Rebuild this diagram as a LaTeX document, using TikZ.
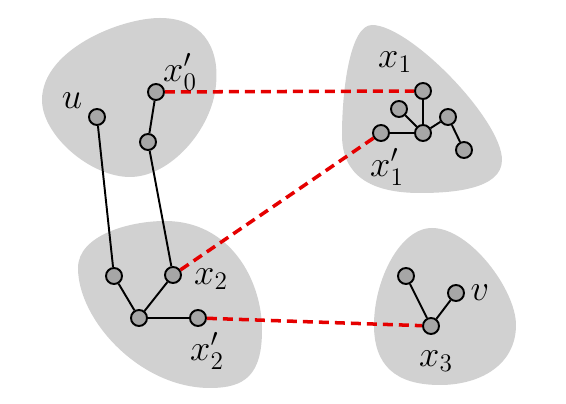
\documentclass[tikz,border=0pt]{standalone}
\usepackage{tikz}
\tikzset{
	vtx/.style={circle,draw=black,line width=1.1pt,fill=black!35,minimum size=0.32cm,inner sep=0pt},
	blob/.style={fill=black!18,draw=none},
	link/.style={red!90!black,line width=2pt,dash pattern=on 0.2cm off 0.12cm},
	lbl/.style={font=\fontsize{20}{24}\selectfont}
}
\begin{document}
\begin{tikzpicture}[x=0.02cm,y=-0.02cm]
	\useasboundingbox (0,0) rectangle (566,404);
	% blobs
	\fill[blob] (42,100) .. controls (42,50) and (120,18) .. (160,18)
		.. controls (200,18) and (220,45) .. (216,85)
		.. controls (212,130) and (170,177) .. (130,177)
		.. controls (90,177) and (42,135) .. (42,100) -- cycle;
	\fill[blob] (372,25) .. controls (410,25) and (502,120) .. (502,160)
		.. controls (502,190) and (450,193) .. (420,193)
		.. controls (370,193) and (342,175) .. (342,135)
		.. controls (342,90) and (350,25) .. (372,25) -- cycle;
	\fill[blob] (78,268) .. controls (78,235) and (130,221) .. (165,221)
		.. controls (230,221) and (262,280) .. (262,330)
		.. controls (262,375) and (245,388) .. (210,388)
		.. controls (140,388) and (78,320) .. (78,268) -- cycle;
	\fill[blob] (432,228) .. controls (470,228) and (516,290) .. (516,325)
		.. controls (516,365) and (480,385) .. (440,385)
		.. controls (395,385) and (374,365) .. (374,325)
		.. controls (374,280) and (400,228) .. (432,228) -- cycle;
	% vertices
	\foreach \n/\x/\y in {u/97/117, a/148/142, xz/156/92,
		b/114/276, xt/173/275, c/139/318, xtp/198/318,
		xo/423/91, d/423/133, xop/381/133, e/399/109, f/448/117, g/464/150,
		h/406/276, xh/431/326, v/456/293} {
		\node[vtx] (\n) at (\x,\y) {};
	}
	% tree edges
	\draw[line width=1.1pt] (u) -- (b) (xz) -- (a) -- (xt) (b) -- (c) -- (xt) (c) -- (xtp);
	\draw[line width=1.1pt] (xo) -- (d) (xop) -- (d) (e) -- (d) (d) -- (f) -- (g);
	\draw[line width=1.1pt] (h) -- (xh) -- (v);
	% matching links
	\draw[link] (xz) -- (xo);
	\draw[link] (xt) -- (xop);
	\draw[link] (xtp) -- (xh);
	% labels
	\node[lbl] (lu) at (72,101) {$u$};
	\node[lbl] (lxz) at (180,72) {$x_0'$};
	\node[lbl] (lxo) at (395,62) {$x_1$};
	\node[lbl] (lxop) at (387,167) {$x_1'$};
	\node[lbl] (lxt) at (211,279) {$x_2$};
	\node[lbl] (lxtp) at (207,351) {$x_2'$};
	\node[lbl] (lv) at (480,293) {$v$};
	\node[lbl] (lxh) at (436,361) {$x_3$};
\end{tikzpicture}
\end{document}
